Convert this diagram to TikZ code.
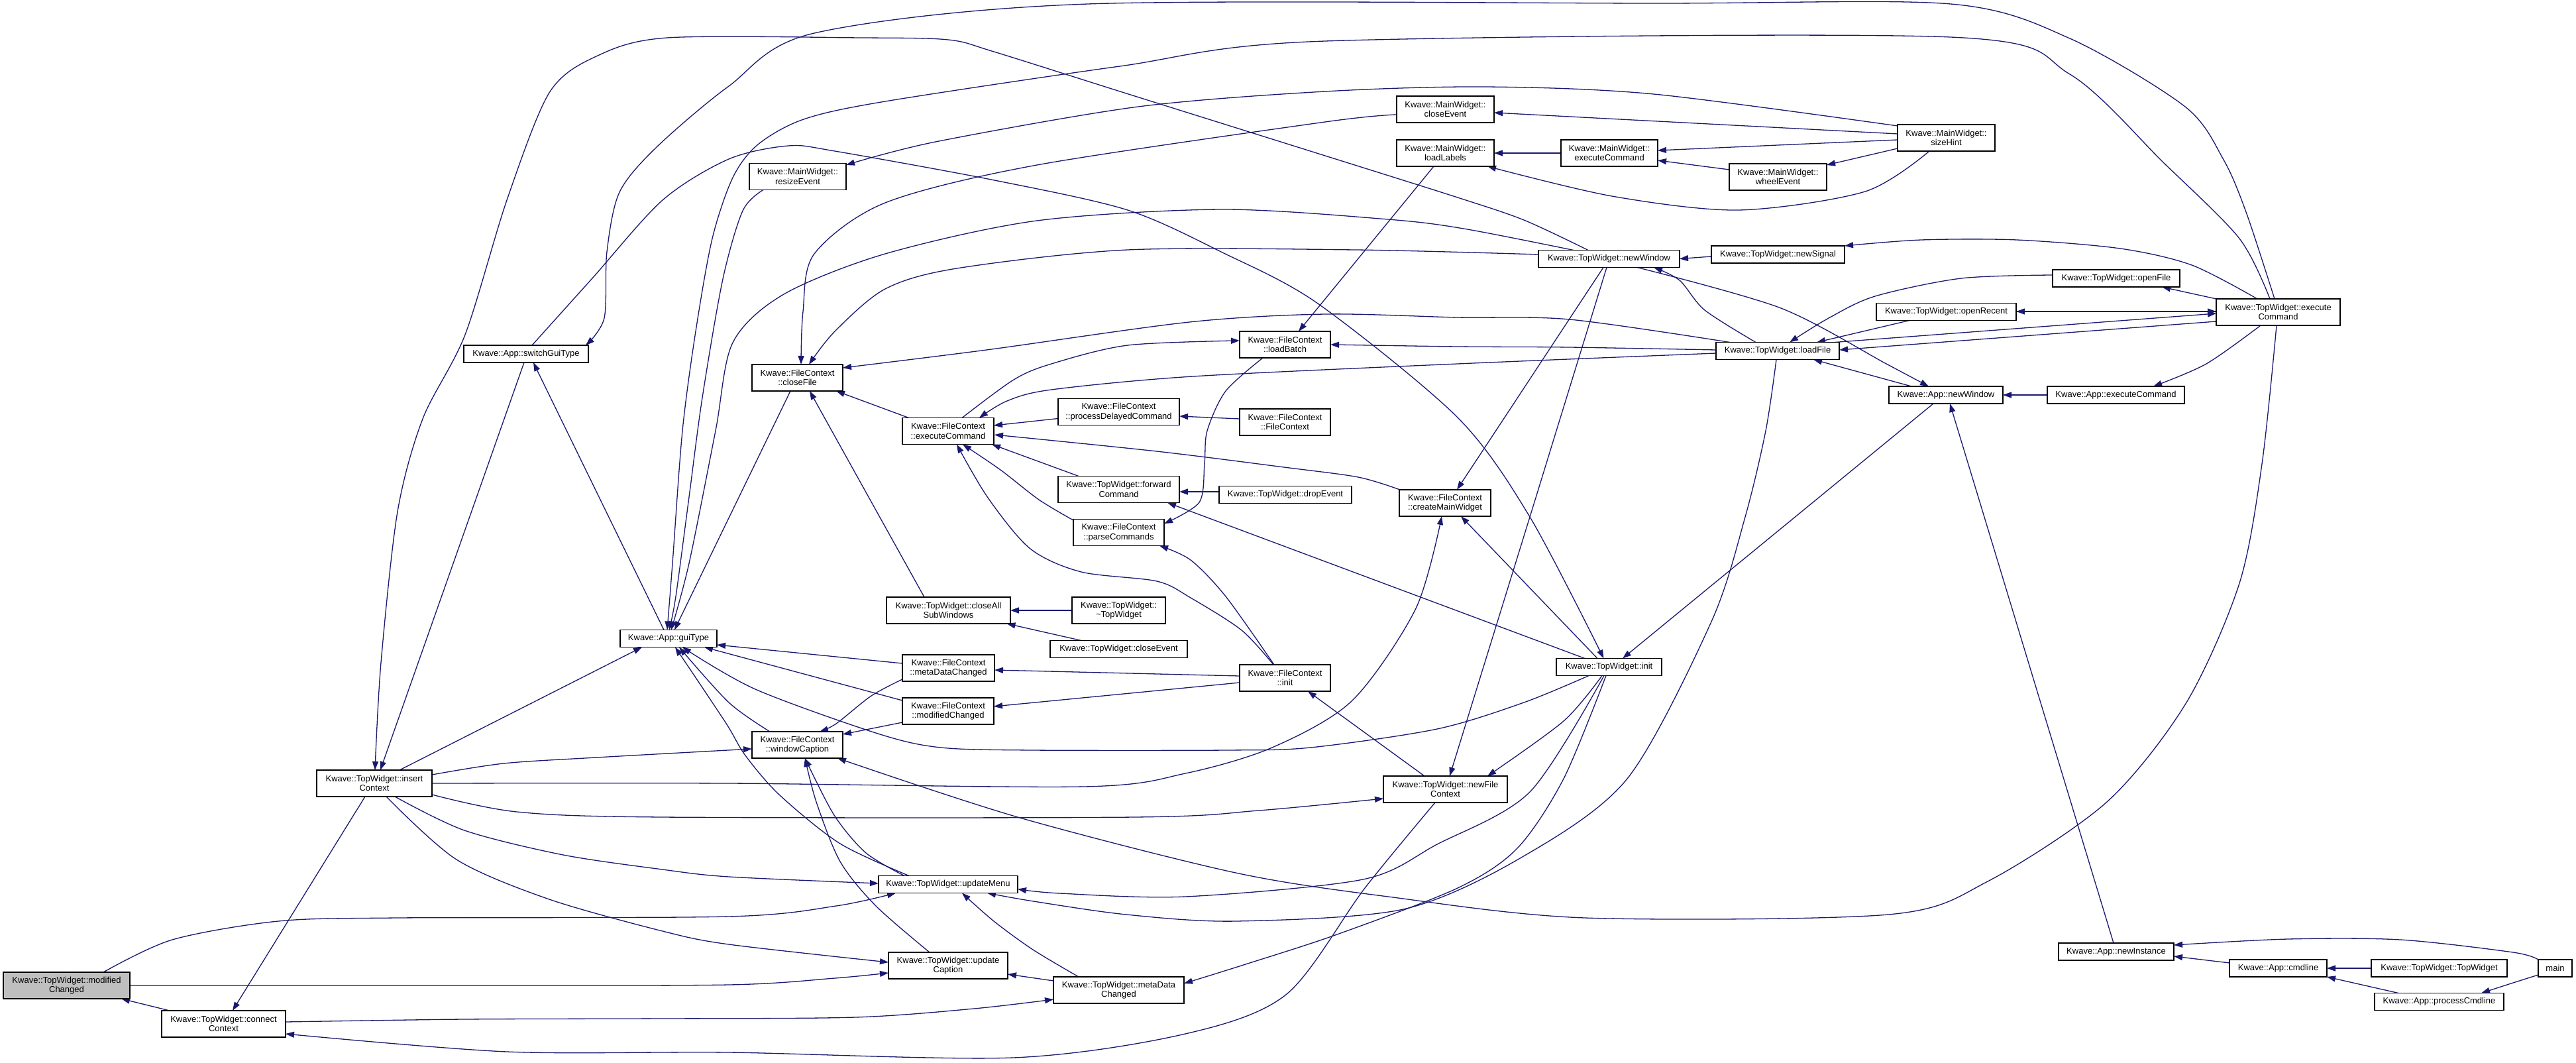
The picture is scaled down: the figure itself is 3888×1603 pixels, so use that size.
\documentclass[tikz,border=0pt]{standalone}
\usepackage{fontspec}
\setmainfont{Liberation Sans}
\usetikzlibrary{arrows.meta}
\definecolor{edgeblue}{RGB}{25,25,112}
\definecolor{rootgray}{RGB}{191,191,191}
\pgfdeclarelayer{bg}
\pgfsetlayers{bg,main}
\newcommand{\dnode}[7][white]{\node[fn,fill=#1,minimum width=#5pt,minimum height=#6pt] (#2) at (#3,#4) {#7};}
\begin{document}
\begin{tikzpicture}[x=1pt,y=-1pt,
  fn/.style={draw=black, line width=1.3pt, inner sep=0pt, align=center, font=\fontsize{13}{14.5}\selectfont},
  ed/.style={draw=edgeblue, line width=1.3pt, line join=round, -{Triangle[length=13pt,width=9pt]}},
  sm/.style={smooth, tension=0.5}]
\useasboundingbox (0,0) rectangle (3888,1603);
% ---------- nodes ----------
\dnode[rootgray]{modC}{100.5}{1487}{191}{40}{Kwave::TopWidget::modified\\Changed}
\dnode{connC}{337.5}{1545}{187}{40}{Kwave::TopWidget::connect\\Context}
\dnode{insC}{565}{1182}{174}{40}{Kwave::TopWidget::insert\\Context}
\dnode{swGT}{794}{534}{188}{26}{Kwave::App::switchGuiType}
\dnode{guiT}{1009}{963.5}{146}{26}{Kwave::App::guiType}
\dnode{resE}{1204}{266.5}{146}{40}{Kwave::MainWidget::\\resizeEvent}
\dnode{clF}{1203.5}{570}{137}{40}{Kwave::FileContext\\::closeFile}
\dnode{winC}{1203.5}{1124}{137}{40}{Kwave::FileContext\\::windowCaption}
\dnode{exFC}{1431}{650.5}{138}{40}{Kwave::FileContext\\::executeCommand}
\dnode{cASW}{1431.5}{921}{187}{40}{Kwave::TopWidget::closeAll\\SubWindows}
\dnode{mdcFC}{1431.5}{1008}{139}{40}{Kwave::FileContext\\::metaDataChanged}
\dnode{modFC}{1431}{1073}{138}{40}{Kwave::FileContext\\::modifiedChanged}
\dnode{upM}{1431}{1334.5}{210}{26}{Kwave::TopWidget::updateMenu}
\dnode{upC}{1431}{1457}{180}{40}{Kwave::TopWidget::update\\Caption}
\dnode{mdcTW}{1688.5}{1494}{197}{40}{Kwave::TopWidget::metaData\\Changed}
\dnode{pDC}{1688.5}{621.5}{183}{40}{Kwave::FileContext\\::processDelayedCommand}
\dnode{fwdC}{1688.5}{738.5}{183}{40}{Kwave::TopWidget::forward\\Command}
\dnode{parC}{1688.5}{803.5}{137}{40}{Kwave::FileContext\\::parseCommands}
\dnode{dTW}{1688.5}{921}{141}{40}{Kwave::TopWidget::\\\textasciitilde TopWidget}
\dnode{cETW}{1688.5}{979.5}{207}{26}{Kwave::TopWidget::closeEvent}
\dnode{FCFC}{1939.5}{637}{137}{40}{Kwave::FileContext\\::FileContext}
\dnode{drE}{1940}{746.5}{200}{26}{Kwave::TopWidget::dropEvent}
\dnode{FCi}{1939.5}{1023}{137}{40}{Kwave::FileContext\\::init}
\dnode{ldB}{1939.5}{520}{137}{40}{Kwave::FileContext\\::loadBatch}
\dnode{cMW}{2181}{759}{138}{40}{Kwave::FileContext\\::createMainWidget}
\dnode{nFC}{2181.5}{1191}{187}{40}{Kwave::TopWidget::newFile\\Context}
\dnode{TWi}{2428.5}{1006.5}{159}{26}{Kwave::TopWidget::init}
\dnode{MWcE}{2181.5}{165}{147}{40}{Kwave::MainWidget::\\closeEvent}
\dnode{MWlL}{2181.5}{231}{147}{40}{Kwave::MainWidget::\\loadLabels}
\dnode{MWeC}{2429}{231}{146}{40}{Kwave::MainWidget::\\executeCommand}
\dnode{MWwE}{2683.5}{267}{147}{40}{Kwave::MainWidget::\\wheelEvent}
\dnode{MWsH}{2937.5}{208}{147}{40}{Kwave::MainWidget::\\sizeHint}
\dnode{TWnW}{2428.5}{390.5}{213}{26}{Kwave::TopWidget::newWindow}
\dnode{nSig}{2683.5}{384}{201}{26}{Kwave::TopWidget::newSignal}
\dnode{oF}{3194}{420}{192}{26}{Kwave::TopWidget::openFile}
\dnode{oR}{2937.5}{470.5}{211}{26}{Kwave::TopWidget::openRecent}
\dnode{lF}{2683}{529.5}{186}{26}{Kwave::TopWidget::loadFile}
\dnode{TWeC}{3438.5}{471}{187}{40}{Kwave::TopWidget::execute\\Command}
\dnode{AnW}{2937}{596}{172}{26}{Kwave::App::newWindow}
\dnode{AeC}{3193.5}{596}{207}{26}{Kwave::App::executeCommand}
\dnode{nI}{3194}{1436}{174}{26}{Kwave::App::newInstance}
\dnode{cmd}{3438.5}{1461}{147}{26}{Kwave::App::cmdline}
\dnode{TWTW}{3681.5}{1461}{205}{26}{Kwave::TopWidget::TopWidget}
\dnode{main}{3856.5}{1461}{51}{26}{main}
\dnode{pCl}{3681.5}{1511.5}{195}{26}{Kwave::App::processCmdline}
% ---------- edges ----------
\begin{pgfonlayer}{bg}
\fill[white] (0,0) rectangle (3888,1603);
\draw[ed] ([shift={(-81.5,-20)}]connC.center) -- ([shift={(82.5,20)}]modC.center);
\draw[ed] plot[sm] coordinates {([shift={(55.5,-20)}]modC.center) (260,1418) (420,1390) (600,1385) (1100,1383) (1262,1367) ([shift={(-79,13)}]upM.center)};
\draw[ed] plot[sm] coordinates {([shift={(95.5,0)}]modC.center) (700,1487) (1100,1486) (1260,1476) ([shift={(-90,11)}]upC.center)};
\draw[ed] ([shift={(-14,20)}]insC.center) -- ([shift={(13.5,-20)}]connC.center);
\draw[ed] plot[sm] coordinates {([shift={(-15.5,20)}]nFC.center) (2060,1340) (1942,1500) (1789,1560) (1529,1596) (1100,1588) (765,1587) ([shift={(93.5,15)}]connC.center)};
\draw[ed] plot[sm] coordinates {([shift={(93.5,-3)}]connC.center) (700,1538) (1000,1537) (1291,1535) (1470,1522) ([shift={(-98.5,14)}]mdcTW.center)};
\draw[ed] plot[sm] coordinates {([shift={(87,-13)}]insC.center) (760,1152) (900,1143) ([shift={(-68.5,6)}]winC.center)};
\draw[ed] plot[sm] coordinates {([shift={(87,0)}]insC.center) (1100,1182) (1636,1187) (1789,1167) (1920,1128) (2041,1057) (2137,918) ([shift={(-5,20)}]cMW.center)};
\draw[ed] plot[sm] coordinates {([shift={(87,17)}]insC.center) (780,1225) (1000,1233) (1712,1233) (1900,1223) ([shift={(-93.5,14)}]nFC.center)};
\draw[ed] plot[sm] coordinates {([shift={(31,20)}]insC.center) (701,1253) (850,1290) (1000,1312) (1100,1323) ([shift={(-105,-1.5)}]upM.center)};
\draw[ed] plot[sm] coordinates {([shift={(18,20)}]insC.center) (689,1297) (829,1357) (1000,1405) (1100,1425) ([shift={(-90,-5)}]upC.center)};
\draw[ed] ([shift={(38,-20)}]insC.center) -- ([shift={(-40,13)}]guiT.center);
\draw[ed] plot[sm] coordinates {([shift={(-31.5,-13)}]TWnW.center) (2300,332) (2200,298) (2000,235) (1700,141) (1500,78) (1431,60) (1300,57) (1007,57) (900,85) (829,140) (765,302) (702,505) (638,632) (600,772) (575,1000) ([shift={(1,-20)}]insC.center)};
\draw[ed] ([shift={(-3,13)}]swGT.center) -- ([shift={(9,-20)}]insC.center);
\draw[ed] ([shift={(-7,-13)}]guiT.center) -- ([shift={(11,13)}]swGT.center);
\draw[ed] plot[sm] coordinates {([shift={(9,-13)}]swGT.center) (893,421) (1000,302) (1100,240) (1190,220) (1260,228) (1501,272) (1702,317) (1845,381) (1989,458) (2200,630) (2309,780) ([shift={(-8,-13)}]TWi.center)};
\draw[ed] plot[sm] coordinates {([shift={(-5.5,-20)}]TWeC.center) (3390,320) (3356,241) (3298,161) (3124,58) (2944,6) (2500,5) (1642,6) (1229,50) (1100,130) (991,222) (935,290) (916,380) (912,480) ([shift={(90,-13)}]swGT.center)};
\draw[ed] plot[sm] coordinates {([shift={(-12.5,-20)}]TWeC.center) (3380,360) (3266,246) (3124,112) (2944,56) (2000,62) (1690,100) (1336,153) (1213,180) (1144,218) (1106,268) (1075,360) (1050,500) (1030,650) (1015,850) ([shift={(-2,-13)}]guiT.center)};
\draw[ed] plot[sm] coordinates {([shift={(-52,20)}]resE.center) (1121,318) (1091,421) (1060,600) (1040,750) (1020,900) ([shift={(1,-13)}]guiT.center)};
\draw[ed] plot[sm] coordinates {([shift={(-53.5,-13)}]TWnW.center) (2209,345) (2095,331) (1845,316) (1565,333) (1336,383) (1183,444) (1106,517) (1080,650) (1040,850) ([shift={(4,-13)}]guiT.center)};
\draw[ed] ([shift={(-10.5,20)}]clF.center) -- ([shift={(9,-13)}]guiT.center);
\draw[ed] plot[sm] coordinates {([shift={(-41.5,-20)}]winC.center) (1100,1060) ([shift={(16,13)}]guiT.center)};
\draw[ed] plot[sm] coordinates {([shift={(-59,-13)}]upM.center) (1268,1273) (1177,1200) (1125,1140) (1095,1090) ([shift={(10,13)}]guiT.center)};
\draw[ed] ([shift={(-69.5,-7)}]mdcFC.center) -- ([shift={(73,9.5)}]guiT.center);
\draw[ed] ([shift={(-69,-16)}]modFC.center) -- ([shift={(54,13)}]guiT.center);
\draw[ed] plot[sm] coordinates {([shift={(-30.5,13)}]TWi.center) (2300,1060) (2169,1100) (1978,1128) (1850,1132) (1559,1132) (1420,1128) (1325,1107) (1140,1040) ([shift={(21,13)}]guiT.center)};
\draw[ed] plot[sm] coordinates {([shift={(-106.5,-6.5)}]TWnW.center) (2046,377) (1702,377) (1444,405) (1336,436) (1260,500) ([shift={(17.5,-20)}]clF.center)};
\draw[ed] plot[sm] coordinates {([shift={(-73.5,8)}]MWcE.center) (2000,184) (1565,249) (1336,306) (1229,383) (1212,470) ([shift={(5.5,-20)}]clF.center)};
\draw[ed] plot[sm] coordinates {([shift={(-72,-13)}]lF.center) (2369,482) (2200,479) (2000,474) (1795,486) (1489,528) ([shift={(68.5,-15)}]clF.center)};
\draw[ed] ([shift={(-58,-19.5)}]exFC.center) -- ([shift={(58.5,20)}]clF.center);
\draw[ed] ([shift={(-36.5,-20)}]cASW.center) -- ([shift={(18.5,20)}]clF.center);
\draw[ed] plot[sm] coordinates {([shift={(-73.5,-18)}]MWsH.center) (2496,142) (2241,131) (2000,138) (1718,161) (1412,214) ([shift={(73,-17.5)}]resE.center)};
\draw[ed] ([shift={(-91.5,10)}]pDC.center) -- ([shift={(69,-8.5)}]exFC.center);
\draw[ed] plot[sm] coordinates {([shift={(-68,-20)}]cMW.center) (2050,720) (1938,705) (1746,681) ([shift={(70,5.5)}]exFC.center)};
\draw[ed] ([shift={(-60.5,-20)}]fwdC.center) -- ([shift={(66,20)}]exFC.center);
\draw[ed] plot[sm] coordinates {([shift={(-68.5,-18.5)}]parC.center) (1568,754) (1510,709) ([shift={(22,20)}]exFC.center)};
\draw[ed] plot[sm] coordinates {([shift={(-17.5,-20)}]FCi.center) (1874,951) (1797,902) (1746,877) (1632,863) (1555,828) (1491,751) ([shift={(13,20)}]exFC.center)};
\draw[ed] plot[sm] coordinates {([shift={(-93,3.5)}]lF.center) (2200,549) (1800,568) (1587,588) (1520,605) ([shift={(47,-20)}]exFC.center)};
\draw[ed] plot[sm] coordinates {([shift={(21,-20)}]exFC.center) (1530,573) (1587,549) (1702,521) ([shift={(-68.5,-6)}]ldB.center)};
\draw[ed] plot[sm] coordinates {([shift={(-33.5,20)}]ldB.center) (1850,590) (1822,650) (1818,700) (1810,758) ([shift={(68.5,-13.5)}]parC.center)};
\draw[ed] ([shift={(-17.5,20)}]MWlL.center) -- ([shift={(20.5,-20)}]ldB.center);
\draw[ed] plot[sm] coordinates {([shift={(-93,-1.5)}]lF.center) (2369,524) (2200,523) ([shift={(68.5,0)}]ldB.center)};
\draw[ed] ([shift={(-68.5,-5)}]FCFC.center) -- ([shift={(91.5,6.5)}]pDC.center);
\draw[ed] ([shift={(-100,-4.5)}]drE.center) -- ([shift={(91.5,3.5)}]fwdC.center);
\draw[ed] ([shift={(-36.5,-13)}]TWi.center) -- ([shift={(73.5,20)}]fwdC.center);
\draw[ed] plot[sm] coordinates {([shift={(-16.5,-20)}]FCi.center) (1850,900) (1797,845) ([shift={(61.5,20)}]parC.center)};
\draw[ed] ([shift={(-70.5,0)}]dTW.center) -- ([shift={(93.5,0)}]cASW.center);
\draw[ed] ([shift={(-56.5,-13)}]cETW.center) -- ([shift={(88,20)}]cASW.center);
\draw[ed] ([shift={(-68.5,-3)}]FCi.center) -- ([shift={(69.5,3)}]mdcFC.center);
\draw[ed] ([shift={(-68.5,7)}]FCi.center) -- ([shift={(69,-7)}]modFC.center);
\draw[ed] plot[sm] coordinates {([shift={(-69.5,17)}]mdcFC.center) (1315,1050) (1262,1092) ([shift={(33.5,-20)}]winC.center)};
\draw[ed] ([shift={(-69,17)}]modFC.center) -- ([shift={(68.5,-16)}]winC.center);
\draw[ed] plot[sm] coordinates {([shift={(-66,-13)}]upM.center) (1307,1287) (1259,1230) ([shift={(11.5,20)}]winC.center)};
\draw[ed] plot[sm] coordinates {([shift={(-28,-20)}]upC.center) (1322,1367) (1268,1300) (1232,1210) ([shift={(11.5,20)}]winC.center)};
\draw[ed] plot[sm] coordinates {([shift={(-2.5,20)}]TWeC.center) (3414,700) (3380,880) (3300,1060) (3180,1210) (3000,1330) (2850,1380) (2392,1385) (2095,1353) (1865,1317) (1536,1233) ([shift={(60.5,20)}]winC.center)};
\draw[ed] plot[sm] coordinates {([shift={(-60.5,-20)}]mdcTW.center) (1559,1433) (1500,1390) ([shift={(21,13)}]upM.center)};
\draw[ed] plot[sm] coordinates {([shift={(-2,13)}]lF.center) (2665,650) (2634,780) (2583,938) (2456,1175) (2296,1294) (2118,1372) (1865,1390) (1700,1380) (1560,1360) ([shift={(59,13)}]upM.center)};
\draw[ed] plot[sm] coordinates {([shift={(-7.5,13)}]TWi.center) (2309,1195) (2169,1274) (2057,1327) (1789,1353) (1600,1348) ([shift={(105,7)}]upM.center)};
\draw[ed] ([shift={(-98.5,-14)}]mdcTW.center) -- ([shift={(90,13)}]upC.center);
\draw[ed] plot[sm] coordinates {([shift={(-4.5,13)}]TWi.center) (2360,1175) (2290,1280) (2200,1340) (2018,1410) (1880,1455) ([shift={(98.5,-10)}]mdcTW.center)};
\draw[ed] ([shift={(-31.5,-20)}]nFC.center) -- ([shift={(34.5,20)}]FCi.center);
\draw[ed] plot[sm] coordinates {([shift={(-3.5,13)}]TWnW.center) (2349,650) (2309,780) ([shift={(6.5,-20)}]nFC.center)};
\draw[ed] plot[sm] coordinates {([shift={(-10.5,13)}]TWi.center) (2360,1088) ([shift={(63.5,-20)}]nFC.center)};
\draw[ed] ([shift={(-8.5,13)}]TWnW.center) -- ([shift={(18,-20)}]cMW.center);
\draw[ed] ([shift={(-17.5,-13)}]TWi.center) -- ([shift={(24,20)}]cMW.center);
\draw[ed] ([shift={(-100.5,3)}]nSig.center) -- ([shift={(106.5,0)}]TWnW.center);
\draw[ed] plot[sm] coordinates {([shift={(-33,-13)}]lF.center) (2573,468) (2535,423) ([shift={(67.5,13)}]TWnW.center)};
\draw[ed] plot[sm] coordinates {([shift={(42.5,13)}]TWnW.center) (2688,465) (2847,549) ([shift={(-26,-13)}]AnW.center)};
\draw[ed] ([shift={(-52,-13)}]AnW.center) -- ([shift={(54,13)}]lF.center);
\draw[ed] ([shift={(-103.5,0)}]AeC.center) -- ([shift={(86,0)}]AnW.center);
\draw[ed] ([shift={(-19,13)}]AnW.center) -- ([shift={(20.5,-13)}]TWi.center);
\draw[ed] ([shift={(-4,-13)}]nI.center) -- ([shift={(6,13)}]AnW.center);
\draw[ed] plot[sm] coordinates {([shift={(-25.5,-13)}]main.center) (3793,1437) (3623,1418) (3453,1417) ([shift={(87,-10)}]nI.center)};
\draw[ed] ([shift={(-73.5,-8)}]cmd.center) -- ([shift={(87,7)}]nI.center);
\draw[ed] ([shift={(-102.5,0)}]TWTW.center) -- ([shift={(73.5,0)}]cmd.center);
\draw[ed] ([shift={(-61.5,-13)}]pCl.center) -- ([shift={(73.5,13)}]cmd.center);
\draw[ed] plot[sm] coordinates {([shift={(-25.5,10)}]main.center) (3793,1483) ([shift={(63.5,-13)}]pCl.center)};
\draw[ed] plot[sm] coordinates {([shift={(-31.5,-20)}]TWeC.center) (3308,400) (3200,375) (3044,362) (2900,362) ([shift={(100.5,-13)}]nSig.center)};
\draw[ed] ([shift={(-93.5,-20)}]TWeC.center) -- ([shift={(69,13)}]oF.center);
\draw[ed] ([shift={(-93.5,-1)}]TWeC.center) -- ([shift={(105.5,-0.5)}]oR.center);
\draw[ed] ([shift={(105.5,-0.5)}]oR.center) -- ([shift={(-93.5,-1)}]TWeC.center);
\draw[ed] ([shift={(86,-13)}]lF.center) -- ([shift={(-93.5,2)}]TWeC.center);
\draw[ed] ([shift={(-93.5,14)}]TWeC.center) -- ([shift={(93,-1.5)}]lF.center);
\draw[ed] plot[sm] coordinates {([shift={(-26.5,20)}]TWeC.center) (3330,549) ([shift={(56.5,-13)}]AeC.center)};
\draw[ed] plot[sm] coordinates {([shift={(-96,-5)}]oF.center) (2960,420) (2830,447) (2760,480) ([shift={(18,-13)}]lF.center)};
\draw[ed] ([shift={(-55.5,13)}]oR.center) -- ([shift={(59,-13)}]lF.center);
\draw[ed] ([shift={(-73.5,-6)}]MWsH.center) -- ([shift={(73.5,5)}]MWcE.center);
\draw[ed] ([shift={(-73.5,3)}]MWsH.center) -- ([shift={(73,-4)}]MWeC.center);
\draw[ed] ([shift={(-73.5,16)}]MWsH.center) -- ([shift={(73.5,-18)}]MWwE.center);
\draw[ed] plot[sm] coordinates {([shift={(-25.5,20)}]MWsH.center) (2815,289) (2624,317) (2433,296) ([shift={(63.5,20)}]MWlL.center)};
\draw[ed] ([shift={(-73,0)}]MWeC.center) -- ([shift={(73.5,0)}]MWlL.center);
\draw[ed] ([shift={(-73.5,-11)}]MWwE.center) -- ([shift={(73,11)}]MWeC.center);
\end{pgfonlayer}
\end{tikzpicture}
\end{document}
